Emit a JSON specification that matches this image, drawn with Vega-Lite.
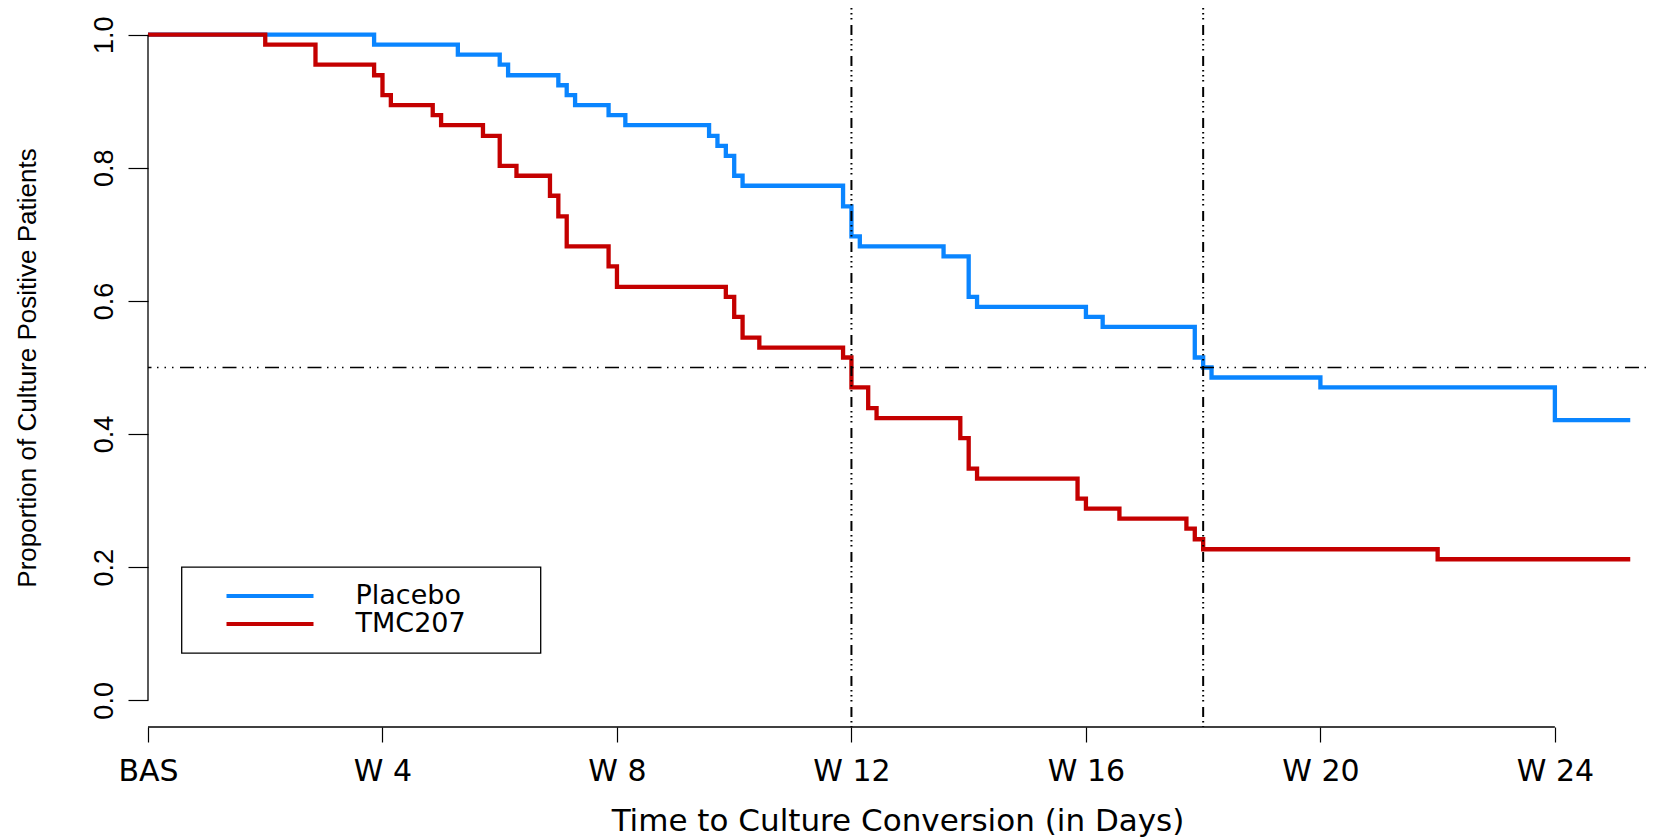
{
  "$schema": "https://vega.github.io/schema/vega-lite/v6.json",
  "width": 1499,
  "height": 719,
  "autosize": {"type": "none"},
  "padding": {"left": 148, "top": 8, "right": 10, "bottom": 110},
  "background": "white",
  "config": {
    "view": {"stroke": null},
    "font": "DejaVu Sans",
    "legend": {"strokeWidth": 1.3}
  },
  "datasets": {
    "km": [
      {"group": "Placebo", "day": 0, "surv": 1.0},
      {"group": "Placebo", "day": 27, "surv": 0.985},
      {"group": "Placebo", "day": 37, "surv": 0.970},
      {"group": "Placebo", "day": 42, "surv": 0.955},
      {"group": "Placebo", "day": 43, "surv": 0.939},
      {"group": "Placebo", "day": 49, "surv": 0.924},
      {"group": "Placebo", "day": 50, "surv": 0.909},
      {"group": "Placebo", "day": 51, "surv": 0.894},
      {"group": "Placebo", "day": 55, "surv": 0.879},
      {"group": "Placebo", "day": 57, "surv": 0.864},
      {"group": "Placebo", "day": 67, "surv": 0.848},
      {"group": "Placebo", "day": 68, "surv": 0.833},
      {"group": "Placebo", "day": 69, "surv": 0.818},
      {"group": "Placebo", "day": 70, "surv": 0.788},
      {"group": "Placebo", "day": 71, "surv": 0.773},
      {"group": "Placebo", "day": 83, "surv": 0.742},
      {"group": "Placebo", "day": 84, "surv": 0.697},
      {"group": "Placebo", "day": 85, "surv": 0.682},
      {"group": "Placebo", "day": 95, "surv": 0.667},
      {"group": "Placebo", "day": 98, "surv": 0.606},
      {"group": "Placebo", "day": 99, "surv": 0.591},
      {"group": "Placebo", "day": 112, "surv": 0.576},
      {"group": "Placebo", "day": 114, "surv": 0.561},
      {"group": "Placebo", "day": 125, "surv": 0.515},
      {"group": "Placebo", "day": 126, "surv": 0.500},
      {"group": "Placebo", "day": 127, "surv": 0.485},
      {"group": "Placebo", "day": 140, "surv": 0.470},
      {"group": "Placebo", "day": 168, "surv": 0.421},
      {"group": "Placebo", "day": 177, "surv": 0.421},
      {"group": "TMC207", "day": 0, "surv": 1.0},
      {"group": "TMC207", "day": 14, "surv": 0.985},
      {"group": "TMC207", "day": 20, "surv": 0.955},
      {"group": "TMC207", "day": 27, "surv": 0.939},
      {"group": "TMC207", "day": 28, "surv": 0.909},
      {"group": "TMC207", "day": 29, "surv": 0.894},
      {"group": "TMC207", "day": 34, "surv": 0.879},
      {"group": "TMC207", "day": 35, "surv": 0.864},
      {"group": "TMC207", "day": 40, "surv": 0.848},
      {"group": "TMC207", "day": 42, "surv": 0.803},
      {"group": "TMC207", "day": 44, "surv": 0.788},
      {"group": "TMC207", "day": 48, "surv": 0.758},
      {"group": "TMC207", "day": 49, "surv": 0.727},
      {"group": "TMC207", "day": 50, "surv": 0.682},
      {"group": "TMC207", "day": 55, "surv": 0.652},
      {"group": "TMC207", "day": 56, "surv": 0.621},
      {"group": "TMC207", "day": 69, "surv": 0.606},
      {"group": "TMC207", "day": 70, "surv": 0.576},
      {"group": "TMC207", "day": 71, "surv": 0.545},
      {"group": "TMC207", "day": 73, "surv": 0.530},
      {"group": "TMC207", "day": 83, "surv": 0.515},
      {"group": "TMC207", "day": 84, "surv": 0.470},
      {"group": "TMC207", "day": 86, "surv": 0.439},
      {"group": "TMC207", "day": 87, "surv": 0.424},
      {"group": "TMC207", "day": 97, "surv": 0.394},
      {"group": "TMC207", "day": 98, "surv": 0.348},
      {"group": "TMC207", "day": 99, "surv": 0.333},
      {"group": "TMC207", "day": 111, "surv": 0.303},
      {"group": "TMC207", "day": 112, "surv": 0.288},
      {"group": "TMC207", "day": 116, "surv": 0.273},
      {"group": "TMC207", "day": 124, "surv": 0.258},
      {"group": "TMC207", "day": 125, "surv": 0.242},
      {"group": "TMC207", "day": 126, "surv": 0.227},
      {"group": "TMC207", "day": 154, "surv": 0.212},
      {"group": "TMC207", "day": 177, "surv": 0.212}
    ],
    "vlines": [{"day": 84}, {"day": 126}],
    "hline": [{"surv": 0.5}]
  },
  "layer": [
    {
      "data": {"name": "km"},
      "mark": {"type": "line", "interpolate": "step-after", "strokeWidth": 4.3, "strokeJoin": "miter", "strokeCap": "butt"},
      "encoding": {
        "x": {
          "field": "day", "type": "quantitative",
          "scale": {"domain": [0, 179], "nice": false, "zero": false},
          "axis": {
            "values": [0, 28, 56, 84, 112, 140, 168],
            "labelExpr": "datum.value == 0 ? 'BAS' : 'W ' + (datum.value / 7)",
            "domain": false, "grid": false,
            "ticks": true, "tickSize": 15, "tickColor": "black", "tickWidth": 1.2,
            "labelFont": "DejaVu Sans", "labelFontSize": 30, "labelColor": "black",
            "labelPadding": 14, "labelFlush": false, "labelOverlap": false,
            "title": "Time to Culture Conversion (in Days)",
            "titleFont": "DejaVu Sans", "titleFontSize": 31, "titleFontWeight": "normal",
            "titleColor": "black", "titlePadding": 20
          }
        },
        "y": {
          "field": "surv", "type": "quantitative",
          "scale": {"domain": [-0.04, 1.04], "nice": false, "zero": false},
          "axis": {
            "values": [0, 0.2, 0.4, 0.6, 0.8, 1.0],
            "format": ".1f",
            "domain": false, "grid": false,
            "ticks": true, "tickSize": 20, "tickColor": "black", "tickWidth": 1.2,
            "labelAngle": -90, "labelAlign": "center", "labelBaseline": "alphabetic",
            "labelFont": "Liberation Sans", "labelFontSize": 27, "labelColor": "black",
            "labelPadding": 16, "labelFlush": false, "labelOverlap": false,
            "title": "Proportion of Culture Positive Patients",
            "titleFont": "Liberation Sans", "titleFontSize": 26, "titleFontWeight": "normal",
            "titleColor": "black", "titleAngle": 270, "titleAlign": "center",
            "titleBaseline": "alphabetic", "titleX": -113, "titleY": 359.5
          }
        },
        "color": {
          "field": "group", "type": "nominal",
          "scale": {"domain": ["Placebo", "TMC207"], "range": ["#0A85FF", "#C40000"]},
          "legend": {
            "orient": "none", "legendX": 33.5, "legendY": 559,
            "title": null,
            "symbolType": "stroke", "symbolSize": 7569, "symbolStrokeWidth": 4,
            "labelFont": "DejaVu Sans", "labelFontSize": 27, "labelColor": "black",
            "labelLimit": 400, "labelOffset": 40,
            "labelExpr": "datum.label + '\u2800\u2800\u2800'",
            "padding": 15, "strokeColor": "black", "fillColor": "white",
            "clipHeight": 28, "rowPadding": 0, "symbolOffset": 28
          }
        }
      }
    },
    {
      "data": {"values": [{}]},
      "mark": {"type": "rule", "color": "black", "strokeWidth": 1.3},
      "encoding": {"x": {"datum": 0}, "y": {"datum": 0}, "y2": {"datum": 1}}
    },
    {
      "data": {"values": [{}]},
      "mark": {"type": "rule", "color": "black", "strokeWidth": 1.3},
      "encoding": {"x": {"datum": 0}, "x2": {"datum": 168}, "y": {"datum": -0.04}}
    },
    {
      "data": {"name": "hline"},
      "mark": {"type": "rule", "color": "black", "strokeWidth": 1.5, "strokeDash": [14, 6.5, 1.5, 6, 1.5, 6, 1.5, 5.5], "strokeDashOffset": 34.5},
      "encoding": {"y": {"field": "surv", "type": "quantitative"}}
    },
    {
      "data": {"name": "vlines"},
      "mark": {"type": "rule", "color": "black", "strokeWidth": 2, "strokeDash": [10, 4, 1.5, 3.5, 1.5, 3.5, 1.5, 5.5], "strokeDashOffset": 14},
      "encoding": {"x": {"field": "day", "type": "quantitative"}}
    }
  ]
}
